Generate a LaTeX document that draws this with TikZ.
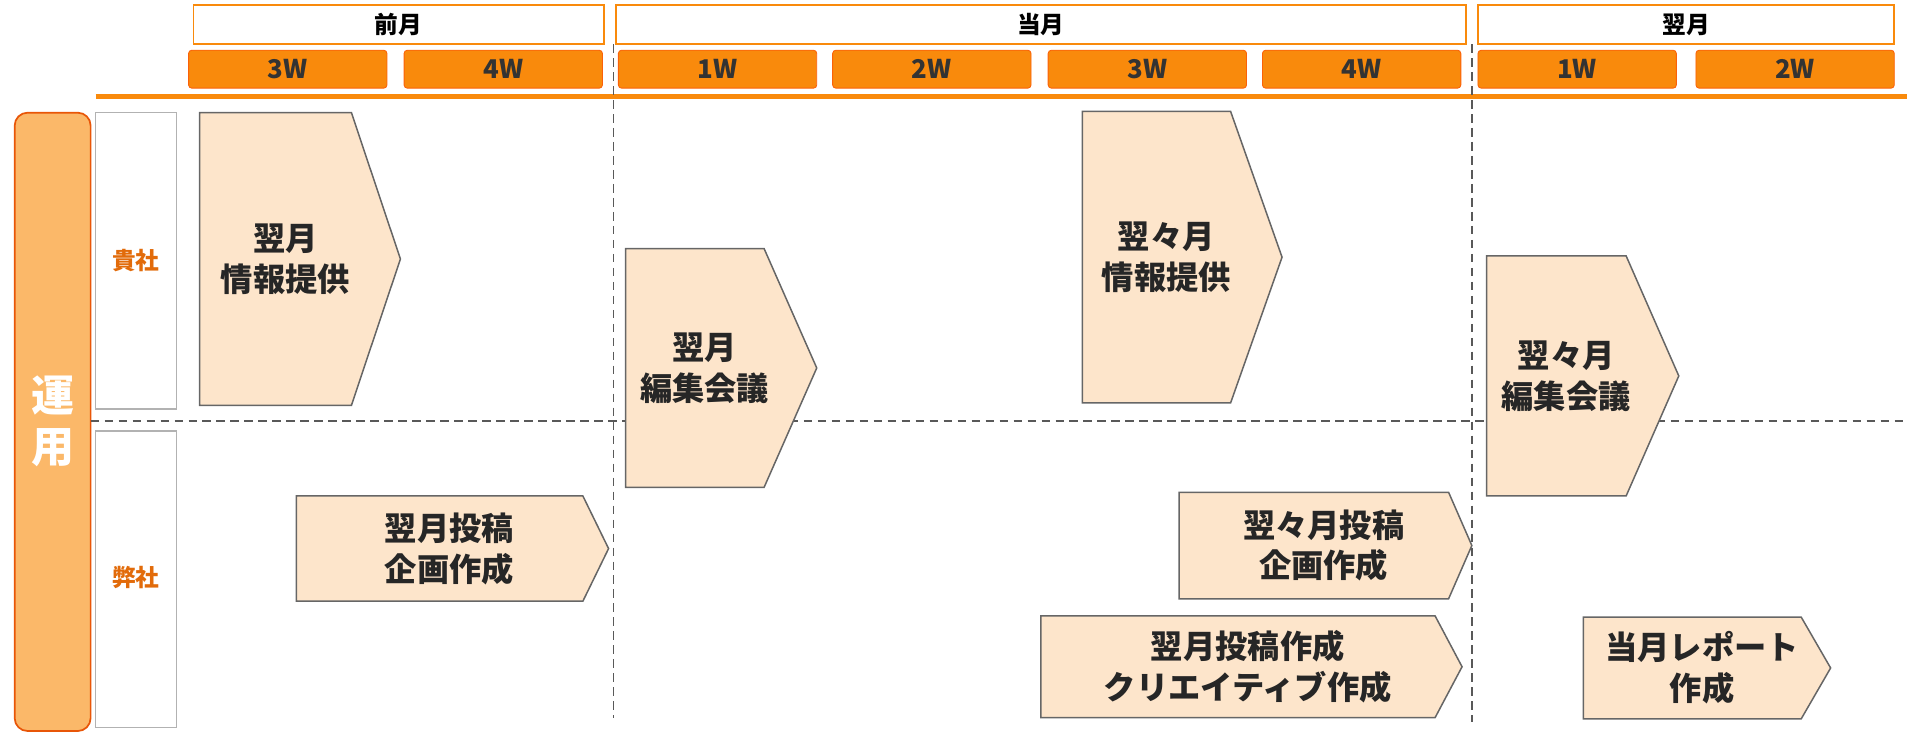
\documentclass[tikz,border=0pt]{standalone}
\usepackage{fontspec}
\setmainfont{Noto Sans CJK JP}
\usetikzlibrary{positioning}
\definecolor{hdorange}{HTML}{F98A0C}
\definecolor{hdtext}{HTML}{E26B0A}
\definecolor{stepfill}{HTML}{FDE5CB}
\definecolor{opfill}{HTML}{FBB869}

\begin{document}
\begin{tikzpicture}[
    x=0.02cm, y=-0.02cm,
    % Stile per le intestazioni dei mesi
    month/.style={draw=hdorange, fill=white, line width=0.8pt, font=\bfseries\fontsize{11}{13}\selectfont},
    % Stile per le settimane
    week/.style={draw=hdorange!70!red, fill=hdorange, rounded corners=1.5pt, font=\bfseries\fontsize{12}{14}\selectfont, text=black!80},
    % Stile per le frecce (pentagoni)
    task/.style={draw=gray!80!black, fill=stepfill, line width=0.7pt},
    tasktext/.style={align=center, font=\bfseries\fontsize{15}{19}\selectfont, text=black!85},
    party/.style={draw=gray!60, fill=white, line width=0.5pt},
    sep/.style={dash pattern=on 4pt off 2.5pt, gray!70!black, line width=0.9pt}
  ]
  \useasboundingbox (0,0) rectangle (1568,600);

  % --- Intestazioni ---
  \draw[month] (158,4) rectangle (493,36);
  \node[font=\bfseries\fontsize{11}{13}\selectfont] (m1) at (325.5,20) {前月};
  \draw[month] (503,4) rectangle (1197,36);
  \node[font=\bfseries\fontsize{11}{13}\selectfont] (m2) at (850,20) {当月};
  \draw[month] (1207,4) rectangle (1547,36);
  \node[font=\bfseries\fontsize{11}{13}\selectfont] (m3) at (1377,20) {翌月};

  \foreach \xa/\xb/\lbl [count=\i] in {154/316/3W, 330/492/4W, 505/667/1W, 680/842/2W,
                                       856/1018/3W, 1031/1193/4W, 1207/1369/1W, 1385/1547/2W}
    \draw[week] (\xa,41) rectangle (\xb,72) node[midway, text=black!80] (w\i) {\lbl};

  \draw[hdorange, line width=2.5pt] (78,79) -- (1557,79);

  % --- Colonna sinistra ---
  \draw[draw=hdtext!80!red, fill=opfill, rounded corners=6pt, line width=0.8pt] (12,92) rectangle (74,597);
  \node[align=center, text=white, font=\bfseries\fontsize{20}{24}\selectfont] (op) at (43,344) {運\\用};
  \draw[party] (78,92) rectangle (144,334);
  \node[text=hdtext, font=\bfseries\fontsize{11}{13}\selectfont] (client) at (111,213) {貴社};
  \draw[party] (78,352) rectangle (144,594);
  \node[text=hdtext, font=\bfseries\fontsize{11}{13}\selectfont] (us) at (111,472) {弊社};

  % --- Separatori ---
  \draw[sep] (74,344) -- (1557,344);
  \draw[sep] (501,36) -- (501,586);
  \draw[sep] (1202,36) -- (1202,590);

  % --- Frecce ---
  \foreach \xa/\xt/\xb/\ya/\yb/\lbl [count=\i] in {
      163/287/327/92/331/{翌月\\情報提供},
      511/624/667/203/398/{翌月\\編集会議},
      884/1005/1047/91/329/{翌々月\\情報提供},
      1214/1328/1371/209/405/{翌々月\\編集会議},
      242/476/497/405/491/{翌月投稿\\企画作成},
      963/1183/1202/402/489/{翌々月投稿\\企画作成},
      850/1172/1194/503/586/{翌月投稿作成\\クリエイティブ作成},
      1293/1471/1495/504/587/{当月レポート\\作成}} {
    \draw[task] (\xa,\ya) -- (\xt,\ya) -- (\xb,{(\ya+\yb)/2}) -- (\xt,\yb) -- (\xa,\yb) -- cycle;
    \node[tasktext] (s\i) at ({(\xa+\xt)/2+8},{(\ya+\yb)/2}) {\lbl};
  }
\end{tikzpicture}
\end{document}
